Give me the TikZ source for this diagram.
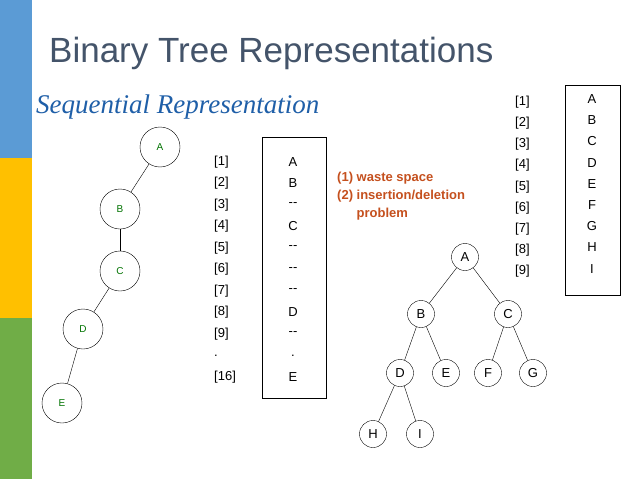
\documentclass[tikz,border=0pt]{standalone}
\usepackage{fontspec}
\setmainfont{Liberation Sans}
\newfontfamily\serifit{Liberation Serif}
\definecolor{titlec}{HTML}{44546A}
\definecolor{subc}{HTML}{1F5FA8}
\definecolor{barblue}{HTML}{5B9BD5}
\definecolor{baryel}{HTML}{FFC000}
\definecolor{bargreen}{HTML}{70AD47}
\definecolor{notec}{HTML}{C5501E}
\begin{document}
\begin{tikzpicture}[x=1pt,y=-1pt,
  lnode/.style={circle,draw,minimum size=40pt,inner sep=0pt,font=\fontsize{10}{12}\selectfont,text=green!45!black},
  rnode/.style={circle,draw,minimum size=27pt,inner sep=0pt,font=\fontsize{13}{15}\selectfont},
  tx/.style={font=\fontsize{13}{15}\selectfont,inner sep=0pt},
  edge/.style={draw,thin}]
\useasboundingbox (0,0) rectangle (638,479);
\fill[white] (0,0) rectangle (638,479);
\fill[barblue] (0,0) rectangle (32,158);
\fill[baryel] (0,158) rectangle (32,318);
\fill[bargreen] (0,318) rectangle (32,479);
\node[anchor=base west,inner sep=0pt,font=\fontsize{35}{40}\selectfont,text=titlec] (title) at (49,62) {Binary Tree Representations};
\node[anchor=base west,inner sep=0pt,font=\fontsize{27}{30}\serifit\itshape,text=subc] (sub) at (36,113) {Sequential Representation};
% left tree
\node[lnode] (a) at (160,147) {A};
\node[lnode] (b) at (120,209) {B};
\node[lnode] (c) at (120,271) {C};
\node[lnode] (d) at (83,329) {D};
\node[lnode] (e) at (62,403) {E};
\draw[edge] (a)--(b); \draw[edge] (b)--(c); \draw[edge] (c)--(d); \draw[edge] (d)--(e);
% left table
\foreach \i/\l/\v [count=\k from 0] in {1/[1]/A,2/[2]/B,3/[3]/{-}{-},4/[4]/C,5/[5]/{-}{-},6/[6]/{-}{-},7/[7]/{-}{-},8/[8]/D,9/[9]/{-}{-},10/./.,11/[16]/E}{
  \node[tx,anchor=west] (li\i) at (214,{162+\k*21.5}) {\l};
  \node[tx] (lv\i) at (293,{162+\k*21.5}) {\v};
}
\node[draw,minimum width=64pt,minimum height=261pt] (lbox) at (294,267.5) {};
% red notes
\node[anchor=north west,align=left,inner sep=0pt,font=\fontsize{13}{18}\selectfont\bfseries,text=notec] (notes) at (337,172) {(1) waste space\\(2) insertion/deletion\\\hphantom{(2) }problem};
% right table
\foreach \i/\v [count=\k from 0] in {1/A,2/B,3/C,4/D,5/E,6/F,7/G,8/H,9/I}{
  \node[tx,anchor=west] (ri\i) at (515,{102+\k*21.2}) {[\i]};
  \node[tx] (rv\i) at (592,{99+\k*21.2}) {\v};
}
\node[draw,minimum width=55pt,minimum height=210pt] (rbox) at (592.5,190) {};
% right tree
\node[rnode] (A) at (465,257) {A};
\node[rnode] (B) at (421,314) {B};
\node[rnode] (C) at (508,314) {C};
\node[rnode] (D) at (400,373) {D};
\node[rnode] (E) at (446,373) {E};
\node[rnode] (F) at (488,373) {F};
\node[rnode] (G) at (533,373) {G};
\node[rnode] (H) at (373,434) {H};
\node[rnode] (I) at (420,434) {I};
\foreach \p/\q in {A/B,A/C,B/D,B/E,C/F,C/G,D/H,D/I} \draw[edge] (\p)--(\q);
\end{tikzpicture}
\end{document}
